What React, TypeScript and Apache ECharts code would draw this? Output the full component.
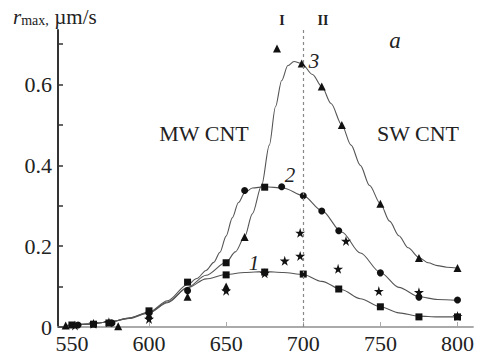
import React, { useEffect, useRef } from "react";
import * as echarts from "echarts";

// Fitted curves (wavelength nm, r_max µm/s)
const curve1: [number, number][] = [
  [545, 0.003], [560, 0.007], [575, 0.013], [587, 0.022], [600, 0.036], [612, 0.062],
  [625, 0.097], [637, 0.119], [650, 0.13], [662, 0.135], [675, 0.137], [687, 0.135],
  [700, 0.13], [712, 0.113], [725, 0.092], [737, 0.07], [750, 0.05], [762, 0.035],
  [775, 0.027], [787, 0.025], [800, 0.025],
];
const curve2: [number, number][] = [
  [545, 0.003], [560, 0.007], [575, 0.013], [587, 0.022], [600, 0.037], [612, 0.065],
  [625, 0.105], [631, 0.12], [637, 0.14], [642, 0.16], [646, 0.185], [650, 0.225],
  [654, 0.27], [658, 0.308], [662, 0.332], [667, 0.344], [675, 0.347], [687, 0.344],
  [700, 0.325], [712, 0.288], [725, 0.235], [737, 0.183], [750, 0.135], [762, 0.098],
  [775, 0.075], [787, 0.068], [800, 0.066],
];
const curve3: [number, number][] = [
  [545, 0.003], [560, 0.007], [575, 0.013], [587, 0.021], [600, 0.035], [612, 0.06],
  [625, 0.098], [637, 0.128], [650, 0.16], [656, 0.186], [662, 0.223], [667, 0.28],
  [673, 0.35], [678, 0.45], [682, 0.545], [686, 0.61], [690, 0.647], [694, 0.657],
  [699, 0.652], [706, 0.625], [712, 0.595], [718, 0.553], [725, 0.5], [731, 0.45],
  [737, 0.4], [743, 0.35], [750, 0.305], [756, 0.262], [762, 0.226], [768, 0.196],
  [775, 0.172], [781, 0.159], [787, 0.152], [793, 0.148], [800, 0.146],
];

// Measured points
const squares: [number, number][] = [
  [550, 0.005], [564, 0.007], [574, 0.01], [600, 0.04], [625, 0.111], [650, 0.159],
  [650, 0.129], [675, 0.346], [675, 0.136], [700, 0.131], [723, 0.094], [750, 0.05],
  [775, 0.025], [800, 0.025],
];
const circles: [number, number][] = [
  [554, 0.005], [576, 0.01], [600, 0.035], [625, 0.09], [662, 0.338], [686, 0.347],
  [700, 0.325], [712, 0.287], [723, 0.238], [750, 0.134], [775, 0.074], [800, 0.067],
];
const triangles: [number, number][] = [
  [546, 0.004], [580, 0.002], [600, 0.03], [625, 0.075], [650, 0.1], [662, 0.223],
  [683, 0.689], [699, 0.652], [712, 0.595], [725, 0.5], [750, 0.305], [775, 0.171],
  [800, 0.146],
];
const stars: [number, number][] = [
  [552, 0.004], [564, 0.008], [574, 0.012], [600, 0.02], [650, 0.09], [675, 0.133],
  [688, 0.164], [698, 0.176], [698, 0.233], [722.6, 0.144], [727.7, 0.213],
  [749, 0.089], [775, 0.086], [800, 0.027],
];

const xTicks = [550, 600, 650, 700, 750, 800];
const yMajor = [0, 0.2, 0.4, 0.6];
const yMinor = [0, 0.1, 0.2, 0.3, 0.4, 0.5, 0.6, 0.7];
const boundary = 700;

const STAR =
  "path://M50,0 L61,35 L98,35 L68,57 L79,91 L50,70 L21,91 L32,57 L2,35 L39,35 Z";
const FONT = "'Liberation Serif', 'Times New Roman', serif";
const INK = "#222";

export default function App() {
  const ref = useRef<HTMLDivElement>(null);
  useEffect(() => {
    if (!ref.current) return;
    const chart = echarts.init(ref.current, null, { renderer: "svg" });
    const lineS = (data: [number, number][], extra: any = {}) => ({
      type: "line",
      data,
      smooth: 0.3,
      smoothMonotone: "x",
      showSymbol: false,
      symbol: "none",
      lineStyle: { color: "#555", width: 1.1 },
      z: 2,
      silent: true,
      ...extra,
    });
    const scat = (data: [number, number][], symbol: string, size: number) => ({
      type: "scatter",
      data,
      symbol,
      symbolSize: size,
      itemStyle: { color: "#111", opacity: 1 },
      z: 3,
      silent: true,
    });
    const txt = (x: number, y: number, text: string, extra: any = {}) => ({
      type: "text",
      x,
      y,
      style: {
        text,
        fontFamily: FONT,
        fontSize: 22,
        fill: INK,
        textAlign: "center",
        textVerticalAlign: "middle",
        ...extra,
      },
    });
    chart.setOption({
      animation: false,
      backgroundColor: "#fff",
      textStyle: { fontFamily: FONT },
      grid: { left: 58, right: 4, top: 30, bottom: 31 },
      xAxis: {
        type: "value",
        min: 541,
        max: 810,
        axisLine: { lineStyle: { color: "#aaa", width: 2 } },
        axisTick: {
          show: true,
          inside: true,
          length: 5,
          customValues: xTicks,
          lineStyle: { color: "#aaa", width: 1 },
        },
        axisLabel: {
          customValues: xTicks,
          fontFamily: FONT,
          fontSize: 22,
          color: INK,
          margin: 5,
        },
        splitLine: { show: false },
      },
      yAxis: {
        type: "value",
        min: 0,
        max: 0.735,
        axisLine: { show: true, lineStyle: { color: "#333", width: 2 } },
        axisTick: {
          show: true,
          inside: true,
          length: 5,
          customValues: yMinor,
          lineStyle: { color: "#333", width: 1.5 },
        },
        axisLabel: {
          customValues: yMajor,
          fontFamily: FONT,
          fontSize: 22,
          color: INK,
          margin: 6,
          formatter: (v: number) => (v === 0 ? "0" : v.toFixed(1)),
        },
        splitLine: { show: false },
      },
      series: [
        lineS(curve1, {
          markLine: {
            silent: true,
            symbol: "none",
            label: { show: false },
            lineStyle: { color: "#888", type: [3, 3], width: 1.2 },
            data: [{ xAxis: boundary }],
          },
        }),
        lineS(curve2),
        lineS(curve3),
        scat(squares, "rect", 7),
        scat(circles, "circle", 7),
        scat(triangles, "triangle", 8),
        scat(stars, STAR, 10),
      ],
      graphic: [
        {
          type: "text",
          left: 13,
          top: 6,
          style: {
            text: "{r|r}{s|max}{s|, }{u|µm/s}",
            fontFamily: FONT,
            fill: INK,
            rich: {
              r: { fontFamily: FONT, fontStyle: "italic", fontSize: 21, fill: INK, verticalAlign: "bottom" },
              s: { fontFamily: FONT, fontSize: 14, fill: INK, padding: [6, 0, 0, 0], verticalAlign: "bottom" },
              u: { fontFamily: FONT, fontSize: 21, fill: INK, padding: [0, 0, 0, 2], verticalAlign: "bottom" },
            },
          },
        },
        txt(204, 133, "MW CNT"),
        txt(418, 133, "SW CNT"),
        txt(282, 20, "I", { fontSize: 14, fontWeight: "bold" }),
        txt(323, 20, "II", { fontSize: 14, fontWeight: "bold" }),
        txt(395, 40, "a", { fontStyle: "italic", fontSize: 23 }),
        txt(314, 61, "3", { fontStyle: "italic", fontSize: 21 }),
        txt(290, 175, "2", { fontStyle: "italic", fontSize: 21 }),
        txt(254, 263, "1", { fontStyle: "italic", fontSize: 21 }),
      ],
    });
    return () => chart.dispose();
  }, []);
  return (
    <div
      ref={ref}
      style={{ position: "absolute", left: 0, top: 0, width: 477, height: 358 }}
    />
  );
}
